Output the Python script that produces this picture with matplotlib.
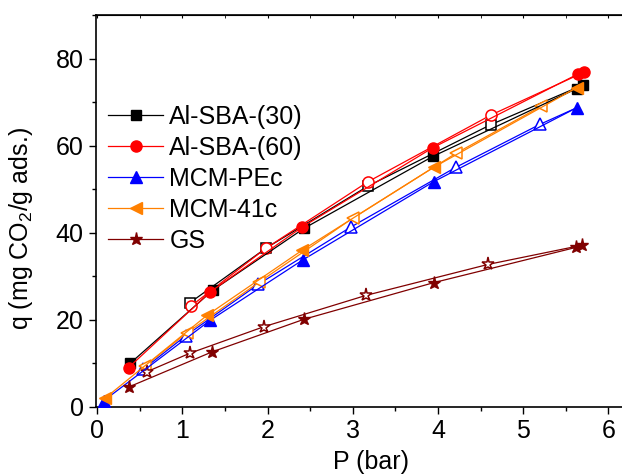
import numpy as np
import matplotlib
matplotlib.use('Agg')
import matplotlib.pyplot as plt
from matplotlib.ticker import MultipleLocator

plt.rcParams['font.family'] = ['Liberation Sans', 'DejaVu Sans']
plt.rcParams['mathtext.default'] = 'regular'

# 吸附支（实心）与脱附支（空心）数据, P in bar, q in mg CO2/g
labels = ['Al-SBA-(30)', 'Al-SBA-(60)', 'MCM-PEc', 'MCM-41c', 'GS']

ads_p = [
    [0.39, 1.36, 2.43, 3.94, 5.63, 5.70],
    [0.37, 1.33, 2.40, 3.94, 5.64, 5.72],
    [0.08, 1.33, 2.42, 3.95, 5.63],
    [0.09, 1.29, 2.41, 3.95, 5.63],
    [0.38, 1.35, 2.43, 3.95, 5.62, 5.69],
]
ads_q = [
    [10.0, 26.8, 41.0, 57.5, 73.1, 73.9],
    [9.0, 26.4, 41.2, 59.5, 76.4, 76.9],
    [1.4, 19.9, 33.8, 51.7, 68.7],
    [1.9, 21.0, 36.0, 55.0, 73.3],
    [4.6, 12.6, 20.1, 28.5, 36.6, 37.1],
]
des_p = [
    [4.62, 3.18, 1.98, 1.09],
    [4.62, 3.18, 1.98, 1.10],
    [5.20, 4.21, 2.98, 1.89, 1.04, 0.54],
    [5.21, 4.21, 3.00, 1.90, 1.05, 0.56],
    [4.59, 3.16, 1.96, 1.09, 0.58],
]
des_q = [
    [64.8, 50.7, 36.4, 23.9],
    [67.0, 51.7, 36.4, 23.1],
    [64.9, 55.0, 41.3, 28.1, 16.3, 8.6],
    [69.0, 58.2, 43.3, 28.6, 16.9, 9.3],
    [32.7, 25.6, 18.4, 12.3, 8.0],
]

colors = ['black', '#ff0000', '#0000ff', '#ff8000', '#800000']
markers = ['s', 'o', '^', '<', '*']
msizes = [6.5, 8, 9, 9, 9.5]

fig = plt.figure(figsize=(6.22, 4.74), dpi=100)
ax = fig.add_axes([96 / 622, 1 - 406.7 / 474, 537.9 / 622, 391.7 / 474])

for i in range(len(labels)):
    c = colors[i]
    # 吸附
    ax.plot(ads_p[i], ads_q[i], color=c, lw=0.9, marker=markers[i],
            ms=msizes[i], mfc=c, mec=c, label=labels[i], zorder=3)
    # 脱附（从吸附最后一点开始连线）
    px = np.concatenate([[ads_p[i][-1]], des_p[i]])
    qy = np.concatenate([[ads_q[i][-1]], des_q[i]])
    ax.plot(px, qy, color=c, lw=0.9, marker=markers[i], ms=msizes[i],
            mfc='white', mec=c, mew=1.1, markevery=list(range(1, len(px))),
            zorder=2)

ax.set_xlim(-0.013, 6.3)
ax.set_ylim(0, 90)
ax.xaxis.set_major_locator(MultipleLocator(1))
ax.xaxis.set_minor_locator(MultipleLocator(0.5))
ax.yaxis.set_major_locator(MultipleLocator(20))
ax.yaxis.set_minor_locator(MultipleLocator(10))

ax.tick_params(axis='both', which='major', direction='out', length=5,
               width=1.0, labelsize=18, pad=4)
ax.tick_params(axis='both', which='minor', direction='out', length=3, width=1.0)
ax.spines['right'].set_visible(False)
for s in ['left', 'bottom', 'top']:
    ax.spines[s].set_linewidth(1.2)

# 顶部刻度朝内
ax2 = ax.secondary_xaxis('top')
ax2.xaxis.set_major_locator(MultipleLocator(1))
ax2.xaxis.set_minor_locator(MultipleLocator(0.5))
ax2.tick_params(which='both', direction='in', length=2.5, labeltop=False)

ax.set_xlabel('P (bar)', fontsize=18)
ax.set_ylabel('q (mg CO$_2$/g ads.)', fontsize=18)
ax.xaxis.set_label_coords(0.511, -0.11)
ax.yaxis.set_label_coords(-0.113, 0.454)

ax.legend(loc='upper left', bbox_to_anchor=(-0.01, 0.815), frameon=False,
          fontsize=18, handlelength=2.2, handletextpad=0.25,
          labelspacing=0.28, borderaxespad=0.3)

fig.savefig('out.png', dpi=100)
